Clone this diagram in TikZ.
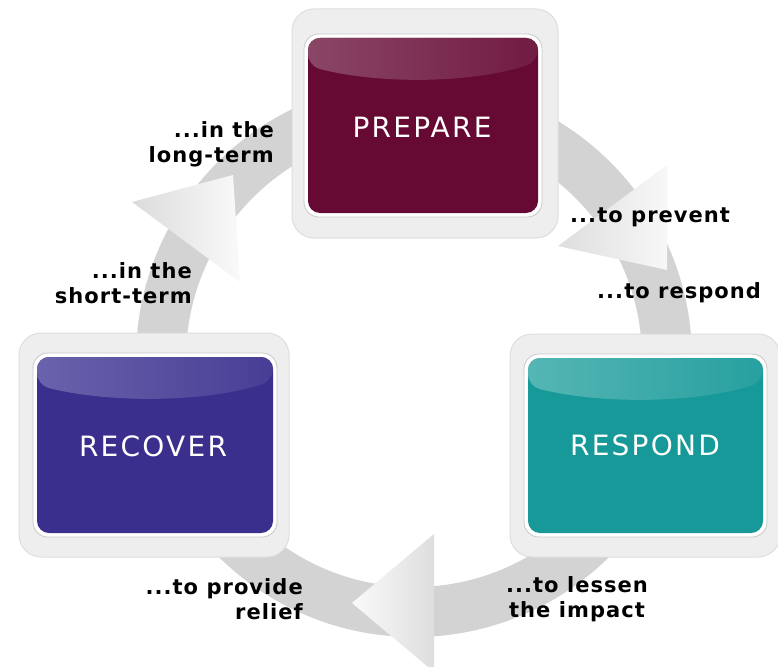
\documentclass[tikz,border=0pt]{standalone}
\usepackage{fontspec}
\setmainfont{DejaVu Sans}
\newfontfamily\boxfont[LetterSpace=8]{DejaVu Sans}
\newfontfamily\lblfont[LetterSpace=5]{DejaVu Sans}
\definecolor{prep}{HTML}{660A33}
\definecolor{prepgl}{HTML}{8A4666}
\definecolor{reco}{HTML}{3A2F8D}
\definecolor{recogl}{HTML}{6A62AC}
\definecolor{resp}{HTML}{169998}
\definecolor{respgl}{HTML}{55B6B4}
\definecolor{ringc}{HTML}{D3D3D3}
\definecolor{haloc}{HTML}{EEEEEE}
\definecolor{haloedge}{HTML}{DEDEDE}
\tikzset{
  halobox/.style={fill=haloc, draw=haloedge, line width=1pt, rounded corners=22pt},
  whitebox/.style={fill=white, draw=haloedge!90!black, line width=0.8pt, rounded corners=15pt},
  stagebox/.style={rounded corners=12pt, inner sep=0pt, text=white,
    font=\boxfont\fontsize{28}{32}\selectfont},
  lbl/.style={inner sep=0pt, font=\lblfont\bfseries\fontsize{21}{25}\selectfont, text=black},
  headshade/.style={draw=none}
}
\begin{document}
\begin{tikzpicture}[x=1pt,y=-1pt]
\useasboundingbox (0,0) rectangle (778,666);
\fill[white] (0,0) rectangle (778,666);
% ring
\coordinate (c) at (414,359);
\fill[ringc, even odd rule] (c) circle[radius=278pt] (c) circle[radius=228pt];
% arrowheads
\coordinate (hTL1) at (132,202);
\coordinate (hTL2) at (233,175);
\coordinate (hTL3) at (240,282);
\shade[headshade, shading=axis, shading angle=150, left color=gray!28, right color=gray!4] (hTL1) -- (hTL2) -- (hTL3) -- cycle;
\coordinate (hR1) at (558,246);
\coordinate (hR2) at (667,165);
\coordinate (hR3) at (667,270);
\shade[headshade, shading=axis, shading angle=60, left color=gray!26, right color=gray!6] (hR1) -- (hR2) -- (hR3) -- cycle;
\coordinate (hB1) at (352,603);
\coordinate (hB2) at (434,534);
\coordinate (hB3) at (434,672);
\shade[headshade, left color=gray!4, right color=gray!26] (hB1) -- (hB2) -- (hB3) -- cycle;
% halos
\draw[halobox] (292,9) rectangle (558,238);
\draw[whitebox] (304,34) rectangle (542,217);
\draw[halobox] (19,333) rectangle (289,557);
\draw[whitebox] (33,353) rectangle (277,537);
\draw[halobox] (510,334) rectangle (780,557);
\draw[whitebox] (524,354) rectangle (767,537);
% boxes
\node[stagebox, fill=prep, minimum width=230pt, minimum height=175pt,
  path picture={\shade[left color=prepgl, right color=prep!93!white]
      (path picture bounding box.north west) -- (path picture bounding box.north east)
      -- ([yshift=-24pt]path picture bounding box.north east)
      .. controls ([xshift=-70pt,yshift=-46pt]path picture bounding box.north east)
         and ([xshift=70pt,yshift=-46pt]path picture bounding box.north west)
      .. ([yshift=-28pt]path picture bounding box.north west) -- cycle;}]
  (prepare) at (423,125.5) {};
\node[stagebox, fill=reco, minimum width=236pt, minimum height=176pt,
  path picture={\shade[left color=recogl, right color=reco!93!white]
      (path picture bounding box.north west) -- (path picture bounding box.north east)
      -- ([yshift=-24pt]path picture bounding box.north east)
      .. controls ([xshift=-70pt,yshift=-46pt]path picture bounding box.north east)
         and ([xshift=70pt,yshift=-46pt]path picture bounding box.north west)
      .. ([yshift=-28pt]path picture bounding box.north west) -- cycle;}]
  (recover) at (155,445) {};
\node[stagebox, fill=resp, minimum width=235pt, minimum height=175pt,
  path picture={\shade[left color=respgl, right color=resp!93!white]
      (path picture bounding box.north west) -- (path picture bounding box.north east)
      -- ([yshift=-24pt]path picture bounding box.north east)
      .. controls ([xshift=-70pt,yshift=-46pt]path picture bounding box.north east)
         and ([xshift=70pt,yshift=-46pt]path picture bounding box.north west)
      .. ([yshift=-28pt]path picture bounding box.north west) -- cycle;}]
  (respond) at (645.5,445.5) {};
\node[stagebox] (prepareT) at (422,127) {PREPARE};
\node[stagebox] (recoverT) at (153,446) {RECOVER};
\node[stagebox] (respondT) at (645,445) {RESPOND};
% labels
\node[lbl, align=right, anchor=east] (lt) at (274,144) {...in the\\long-term};
\node[lbl, align=right, anchor=east] (st) at (192,283.5) {...in the\\short-term};
\node[lbl, anchor=west] (pv) at (570,217) {...to prevent};
\node[lbl, anchor=west] (rs) at (597,293) {...to respond};
\node[lbl, align=right, anchor=east] (pr) at (303,599) {...to provide\\relief};
\node[lbl, align=center] (ls) at (577,599) {...to lessen\\the impact};
\end{tikzpicture}
\end{document}
